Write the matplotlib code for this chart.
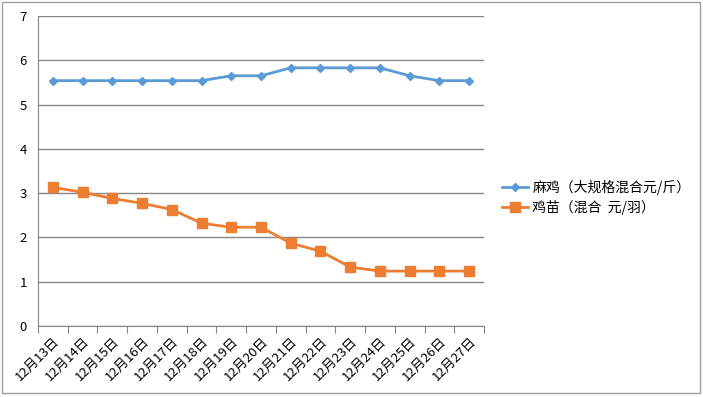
import matplotlib.pyplot as plt
from matplotlib.patches import Rectangle
import numpy as np

plt.rcParams['font.family'] = ['Noto Sans CJK SC', 'DejaVu Sans']

# 日期
dates = ['12月13日', '12月14日', '12月15日', '12月16日', '12月17日', '12月18日',
         '12月19日', '12月20日', '12月21日', '12月22日', '12月23日', '12月24日',
         '12月25日', '12月26日', '12月27日']
# 麻鸡价格
maji = [5.54, 5.54, 5.54, 5.54, 5.54, 5.54, 5.65, 5.65,
        5.83, 5.83, 5.83, 5.83, 5.65, 5.54, 5.54]
# 鸡苗价格
jimiao = [3.13, 3.02, 2.88, 2.77, 2.63, 2.32, 2.23, 2.23,
          1.87, 1.69, 1.33, 1.24, 1.24, 1.24, 1.24]
name1 = '麻鸡（大规格混合元/斤）'
name2 = '鸡苗（混合  元/羽）'

fig = plt.figure(figsize=(7.03, 3.97), dpi=100)
ax = fig.add_axes([38/703, 71/397, 446/703, 310/397])

x = np.arange(len(dates)) + 0.5
ax.plot(x, maji, color='#5B9BD5', lw=2, marker='D', ms=4.5, label=name1)
ax.plot(x, jimiao, color='#ED7D31', lw=2, marker='s', ms=6.5, label=name2)

ax.set_xlim(0, len(dates))
ax.set_ylim(0, 7)
ax.set_yticks(range(8))
ax.grid(axis='y', color='#868686', lw=1)
ax.set_axisbelow(True)

# 刻度在类别之间
ax.set_xticks(np.arange(len(dates) + 1))
ax.set_xticklabels([])
ax.set_xticks(x, minor=True)
ax.set_xticklabels(dates, minor=True, rotation=45, ha='right',
                   rotation_mode='anchor', fontsize=9.5)
ax.tick_params(axis='x', which='major', length=5, color='#868686', direction='out')
ax.tick_params(axis='x', which='minor', length=0, pad=6)
ax.tick_params(axis='y', length=0, labelsize=9.5, pad=8)

for s in ['top', 'right']:
    ax.spines[s].set_visible(False)
for s in ['left', 'bottom']:
    ax.spines[s].set_color('#868686')

ax.legend(loc='center left', bbox_to_anchor=(1.012, 0.415), frameon=False,
          fontsize=10, handlelength=1.9, handletextpad=0.3, labelspacing=0.4)

# 外框
fig.patches.append(Rectangle((2/703, 4/397), 698/703, 391/397, transform=fig.transFigure,
                             fill=False, ec='#A0A0A0', lw=1))

fig.savefig('out.png', dpi=100)
